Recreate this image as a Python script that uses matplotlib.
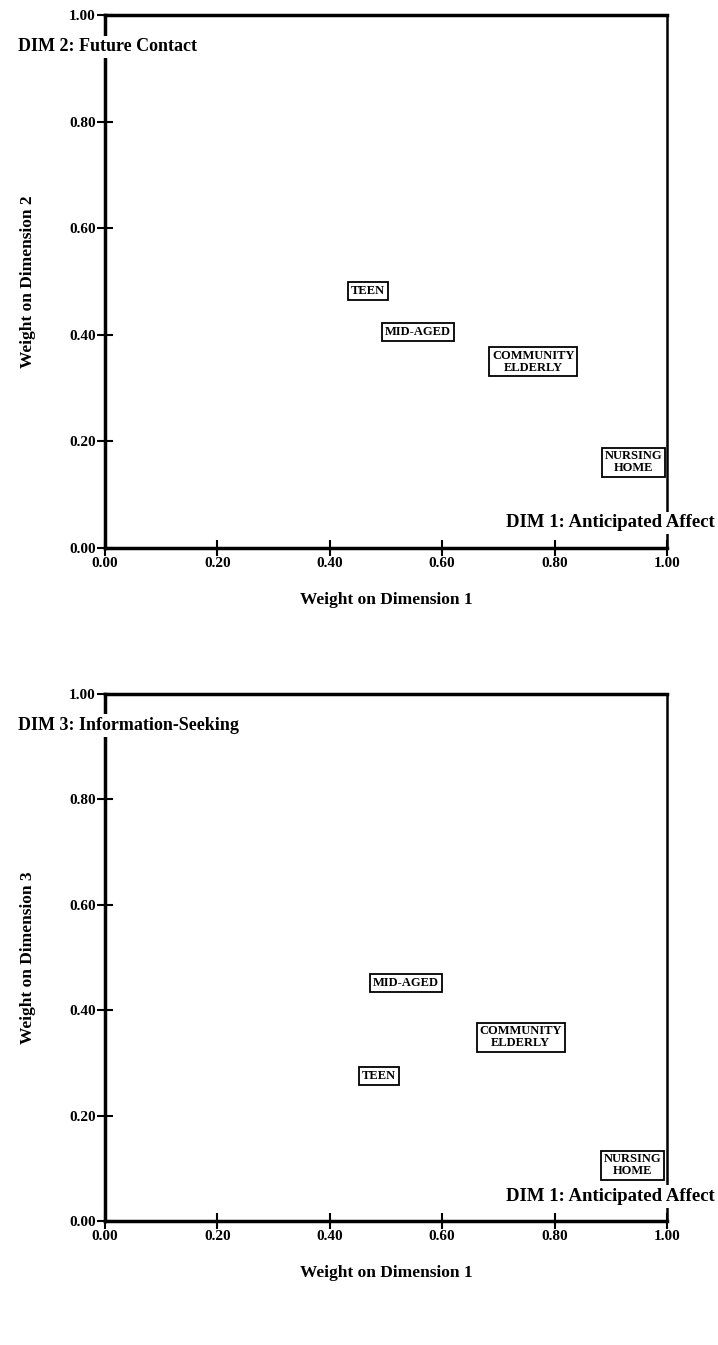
import matplotlib.pyplot as plt

# Gewichte der Gruppen (Dim 1 vs Dim 2, Dim 1 vs Dim 3)
groups = ['TEEN', 'MID-AGED', 'COMMUNITY\nELDERLY', 'NURSING\nHOME']
groups3 = ['MID-AGED', 'COMMUNITY\nELDERLY', 'TEEN', 'NURSING\nHOME']
dim1_a = [0.468, 0.557, 0.762, 0.941]
dim2_a = [0.482, 0.405, 0.349, 0.161]
dim1_b = [0.536, 0.740, 0.488, 0.938]
dim3_b = [0.452, 0.349, 0.275, 0.106]
ticks = [0.0, 0.2, 0.4, 0.6, 0.8, 1.0]
ticklabels = ['0.00', '0.20', '0.40', '0.60', '0.80', '1.00']

plt.rcParams['font.family'] = ['Liberation Serif', 'DejaVu Serif']
plt.rcParams['font.weight'] = 'bold'
plt.rcParams['axes.labelweight'] = 'bold'

fig = plt.figure(figsize=(7.18, 13.45), dpi=100)
ax1 = fig.add_axes([0.146, 0.5926, 0.783, 0.3963])
ax2 = fig.add_axes([0.146, 0.0922, 0.783, 0.3918])


def panel(ax, xs, ys, names, ylab, dimtxt):
    ax.set_xlim(0, 1)
    ax.set_ylim(0, 1)
    ax.set_xticks(ticks)
    ax.set_xticklabels(ticklabels)
    ax.set_yticks(ticks)
    ax.set_yticklabels(ticklabels)
    ax.tick_params(direction='inout', length=11, width=1.5, labelsize=11, pad=1)
    for s in ['left', 'bottom', 'top']:
        ax.spines[s].set_linewidth(2.5)
    ax.spines['right'].set_linewidth(1.8)
    for x, y, n in zip(xs, ys, names):
        ax.text(x, y, n, ha='center', va='center', fontsize=9,
                linespacing=0.95, fontweight='bold',
                bbox=dict(boxstyle='square,pad=0.22', fc='white', ec='black', lw=1.3))
    ax.set_xlabel('Weight on Dimension 1', fontsize=12.5, labelpad=16)
    ax.set_ylabel(ylab, fontsize=12.5, labelpad=24)
    ax.text(-0.155, 0.94, dimtxt, transform=ax.transAxes, fontsize=13,
            ha='left', va='center', clip_on=False,
            bbox=dict(boxstyle='square,pad=0.15', fc='white', ec='none'))
    ax.text(1.085, 0.047, 'DIM 1: Anticipated Affect', transform=ax.transAxes,
            fontsize=13.5, ha='right', va='center', clip_on=False,
            bbox=dict(boxstyle='square,pad=0.15', fc='white', ec='none'))


panel(ax1, dim1_a, dim2_a, groups, 'Weight on Dimension 2', 'DIM 2: Future Contact')
panel(ax2, dim1_b, dim3_b, groups3, 'Weight on Dimension 3', 'DIM 3: Information-Seeking')

fig.savefig('out.png', dpi=100)
